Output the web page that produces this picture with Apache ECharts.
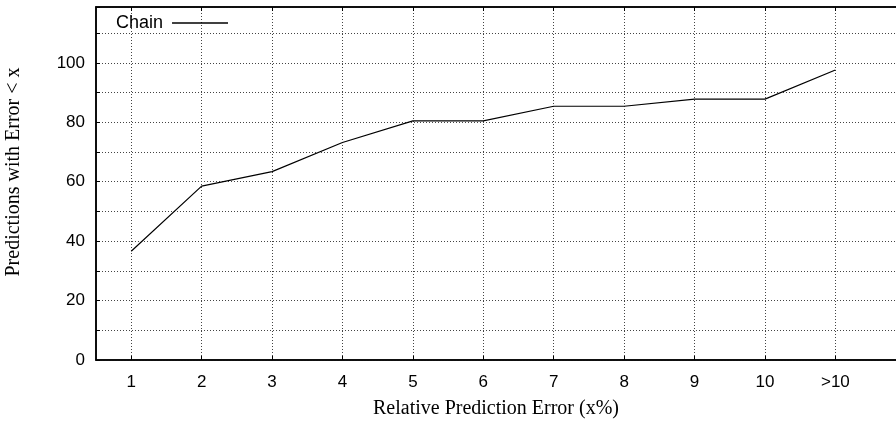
<!DOCTYPE html>
<html>
<head>
<meta charset="utf-8">
<script src="https://cdn.jsdelivr.net/npm/echarts@6/dist/echarts.min.js"></script>
<style>html,body{margin:0;padding:0;background:#fff;}#c{width:896px;height:423px;}</style>
</head>
<body>
<div id="c"></div>
<script>
const categories = ['1','2','3','4','5','6','7','8','9','10','>10'];
const chainValues = [36.6, 58.5, 63.4, 73.2, 80.5, 80.5, 85.4, 85.4, 87.8, 87.8, 97.6];
const seriesName = 'Chain';
const xTitle = 'Relative Prediction Error (x%)';
const yTitle = 'Predictions with Error < x';

const axisCats = categories.concat(['']);
const gridLine = {show: true, alignWithLabel: true, lineStyle: {color: '#444', type: [1, 2], width: 1}};
const chart = echarts.init(document.getElementById('c'), null, {renderer: 'canvas'});
chart.setOption({
  animation: false,
  backgroundColor: '#fff',
  grid: {left: 96, top: 7, bottom: 63, width: 845, outerBoundsMode: 'none', containLabel: false,
         show: true, borderColor: '#000', borderWidth: 1.5, backgroundColor: 'transparent'},
  legend: {
    left: 116, top: 14, align: 'right', icon: 'rect', itemWidth: 56, itemHeight: 1.5, padding: 0,
    data: [seriesName],
    itemStyle: {color: '#000'},
    textStyle: {fontFamily: 'Liberation Sans', fontSize: 18, color: '#000', padding: [0, 4, 0, 0]}
  },
  xAxis: [{
    type: 'category', data: axisCats, boundaryGap: true,
    axisLine: {show: true, lineStyle: {color: '#000', width: 1.5}},
    axisTick: {show: true, inside: true, alignWithLabel: true, length: 4, lineStyle: {color: '#000'}},
    axisLabel: {fontFamily: 'Liberation Sans', fontSize: 17, color: '#000', margin: 14, interval: 0},
    splitLine: gridLine,
    name: xTitle, nameLocation: 'middle', nameGap: 39,
    nameTextStyle: {fontFamily: 'Liberation Serif', fontSize: 20, color: '#000', padding: [0, 45, 0, 0]}
  }, {
    type: 'category', data: axisCats, boundaryGap: true, position: 'top',
    axisLine: {show: true, lineStyle: {color: '#000', width: 1.5}},
    axisTick: {show: true, inside: true, alignWithLabel: true, length: 4, lineStyle: {color: '#000'}},
    axisLabel: {show: false}, splitLine: {show: false}
  }],
  yAxis: {
    type: 'value', min: 0, max: 118.8, interval: 10,
    axisLine: {show: true, lineStyle: {color: '#000', width: 1.5}},
    axisTick: {show: true, inside: true, length: 4, lineStyle: {color: '#000'}},
    axisLabel: {fontFamily: 'Liberation Sans', fontSize: 17, color: '#000', margin: 11,
      formatter: v => (Math.abs(v % 20) < 1e-6 && v <= 100) ? String(v) : ''},
    splitLine: {show: true, lineStyle: {color: '#444', type: [1, 2], width: 1}},
    name: yTitle, nameLocation: 'middle', nameGap: 72, nameRotate: 90,
    nameTextStyle: {fontFamily: 'Liberation Serif', fontSize: 20, color: '#000', padding: [0, 0, 0, 23]}
  },
  series: [{
    name: seriesName, type: 'line', data: chainValues, xAxisIndex: 0,
    showSymbol: false, symbol: 'none',
    lineStyle: {color: '#000', width: 1.2}, itemStyle: {color: '#000'}
  }]
});
</script>
</body>
</html>
